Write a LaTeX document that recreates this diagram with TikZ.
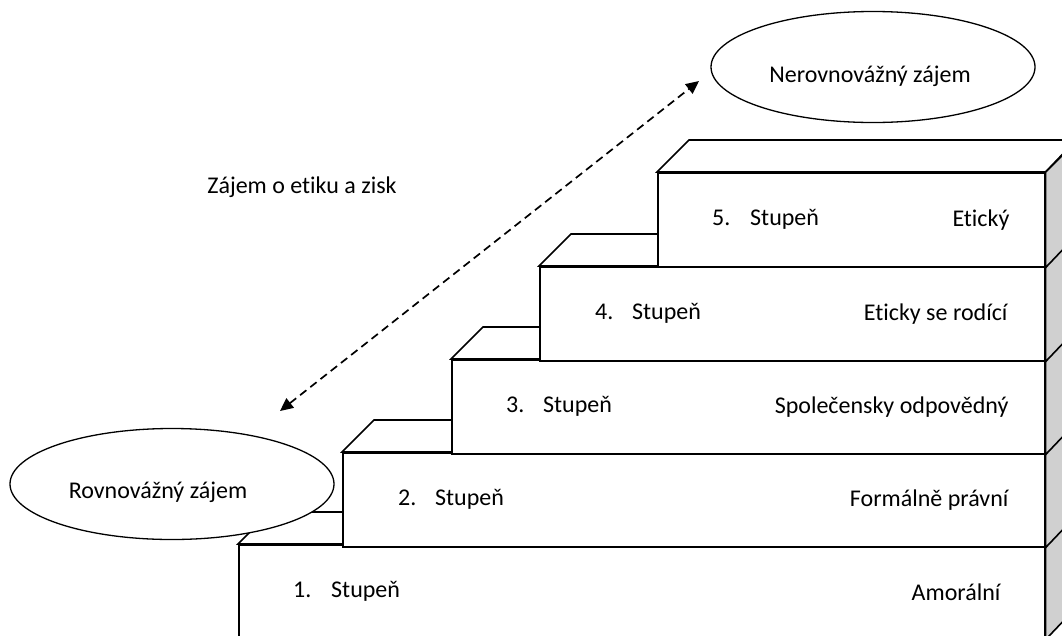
\documentclass[tikz,border=0pt]{standalone}
\usepackage{fontspec}
\setmainfont{Carlito}[Ligatures=NoCommon]
\usetikzlibrary{shapes.geometric,arrows.meta}
\definecolor{sidegray}{RGB}{208,208,208}

\begin{document}
\begin{tikzpicture}[
  x=1pt, y=-1pt,
  every node/.style={font=\fontsize{24pt}{28pt}\selectfont},
  front/.style={draw, line width=1.6pt, fill=white, anchor=north west, inner sep=0pt, minimum height=94pt},
  topface/.style={draw, line width=1.6pt, fill=white, line join=miter},
  sideface/.style={draw, line width=1.6pt, fill=sidegray},
  lvl/.style={anchor=west, inner sep=0pt},
  kind/.style={anchor=east, inner sep=0pt},
  oval/.style={draw, ellipse, line width=1.3pt, fill=white, inner sep=0pt, minimum width=324pt, minimum height=111pt},
  dasharrow/.style={{Triangle[length=13pt,width=12pt]}-{Triangle[length=13pt,width=12pt]}, line width=1.7pt, dash pattern=on 8pt off 5pt},
]
\useasboundingbox (0,0) rectangle (1062,635);
\clip (0,0) rectangle (1062,635);

% --- 1. stupen ---
\node[front, minimum width=806pt] (s1) at (238,544) {};
\draw[topface] (s1.north west) -- ++(32,-32) -- ++(806,0) -- (s1.north east) -- cycle;
\draw[sideface] (s1.north east) -- ++(32,-32) -- ++(0,94) -- (s1.south east) -- cycle;
\node[lvl] (n1) at ([xshift=55]s1.west) {\makebox[38pt][l]{1.}Stupeň};
\node[kind] (k1) at ([xshift=-45]s1.east) {Amorální};

% --- 2. stupen ---
\node[front, minimum width=702pt] (s2) at (342,452) {};
\draw[topface] (s2.north west) -- ++(32,-32) -- ++(702,0) -- (s2.north east) -- cycle;
\draw[sideface] (s2.north east) -- ++(32,-32) -- ++(0,94) -- (s2.south east) -- cycle;
\node[lvl] (n2) at ([xshift=56]s2.west) {\makebox[37pt][l]{2.}Stupeň};
\node[kind] (k2) at ([xshift=-37]s2.east) {Formálně právní};

% --- 3. stupen ---
\node[front, minimum width=593pt] (s3) at (451,359) {};
\draw[topface] (s3.north west) -- ++(32,-32) -- ++(593,0) -- (s3.north east) -- cycle;
\draw[sideface] (s3.north east) -- ++(32,-32) -- ++(0,94) -- (s3.south east) -- cycle;
\node[lvl] (n3) at ([xshift=55]s3.west) {\makebox[37pt][l]{3.}Stupeň};
\node[kind] (k3) at ([xshift=-37]s3.east) {Společensky odpovědný};

% --- 4. stupen ---
\node[front, minimum width=505pt] (s4) at (539,266) {};
\draw[topface] (s4.north west) -- ++(32,-32) -- ++(505,0) -- (s4.north east) -- cycle;
\draw[sideface] (s4.north east) -- ++(32,-32) -- ++(0,94) -- (s4.south east) -- cycle;
\node[lvl] (n4) at ([xshift=56]s4.west) {\makebox[37pt][l]{4.}Stupeň};
\node[kind] (k4) at ([xshift=-38]s4.east) {Eticky se rodící};

% --- 5. stupen ---
\node[front, minimum width=387pt] (s5) at (657,172) {};
\draw[topface] (s5.north west) -- ++(32,-32) -- ++(387,0) -- (s5.north east) -- cycle;
\draw[sideface] (s5.north east) -- ++(32,-32) -- ++(0,94) -- (s5.south east) -- cycle;
\node[lvl] (n5) at ([xshift=55]s5.west) {\makebox[38pt][l]{5.}Stupeň};
\node[kind] (k5) at ([xshift=-36]s5.east) {Etický};

% --- zajem ---
\node[oval] (rovno) at (172,484) {};
\node (rovnotxt) at (158,492) {Rovnovážný zájem};
\node[oval] (nerovno) at (873,67) {};
\node (nerovnotxt) at (870,76) {Nerovnovážný zájem};
\node (zisk) at (302,187) {Zájem o etiku a zisk};

\coordinate (lo) at (280,411);
\coordinate (hi) at (699,81);
\draw[dasharrow] (lo) -- (hi);
\end{tikzpicture}
\end{document}
